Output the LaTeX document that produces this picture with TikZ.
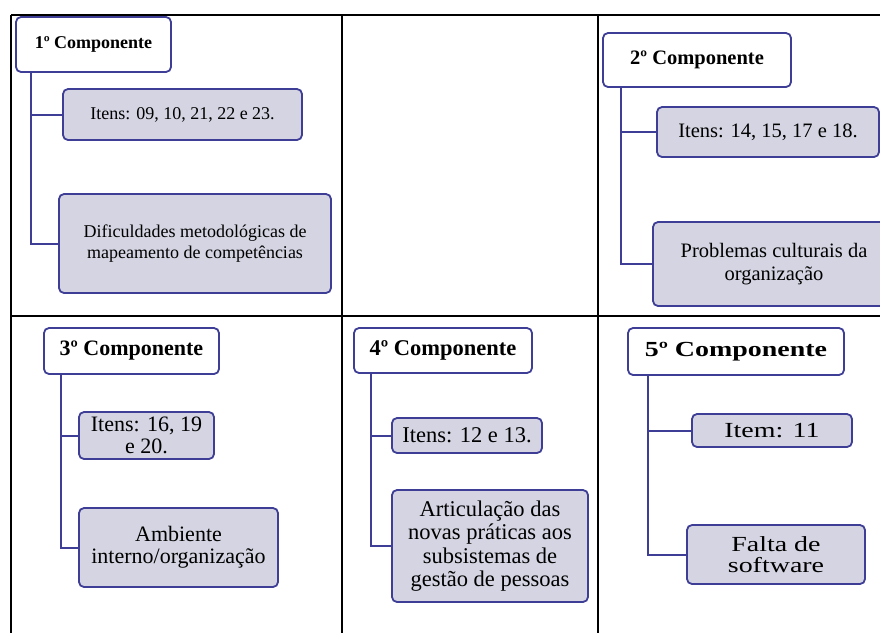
\documentclass[tikz,border=0pt]{standalone}
\usepackage{fontspec}
\setmainfont{Liberation Serif}
\newfontfamily\widefont[FakeStretch=1.3]{Liberation Serif}
\definecolor{boxline}{RGB}{62,62,150}
\definecolor{boxfill}{RGB}{212,212,226}
\tikzset{
  comp/.style={draw=boxline, line width=1.8pt, fill=white, rounded corners=5pt,
    inner sep=0pt, execute at begin node=\bfseries},
  item/.style={draw=boxline, line width=1.8pt, fill=boxfill, rounded corners=5pt,
    inner sep=0pt, align=center},
  conn/.style={draw=boxline, line width=2pt},
  tab/.style={line width=2.4pt}
}
\begin{document}
\begin{tikzpicture}[x=1pt, y=-1pt]
  \useasboundingbox (0,0) rectangle (880,633);
  \clip (0,0) rectangle (880,633);

  % table grid
  \draw[tab] (11,15) -- (880,15);
  \draw[tab] (11,316) -- (880,316);
  \draw[tab] (11,15) -- (11,633);
  \draw[tab] (342,15) -- (342,633);
  \draw[tab] (598,15) -- (598,633);

  % 1st component
  \begin{scope}[font=\fontsize{18}{21}\selectfont]
    \node[comp, minimum width=155, minimum height=55] (h1) at (93.5,44.5) {1º Componente};
    \node[item, minimum width=239, minimum height=51] (i1) at (182.5,114.5) {Itens: 09, 10, 21, 22 e 23.};
    \node[item, minimum width=272, minimum height=99] (d1) at (195,243.5)
      {Dificuldades metodológicas de\\mapeamento de competências};
    \coordinate (t1) at ([xshift=16pt]h1.south west);
    \draw[conn] (t1) |- (i1.west);
    \draw[conn] (t1) |- (d1.west);
  \end{scope}

  % 2nd component
  \begin{scope}[font=\fontsize{20.5}{23}\selectfont]
    \node[comp, minimum width=188, minimum height=54] (h2) at (697,60) {2º Componente};
    \node[item, minimum width=222, minimum height=50] (i2) at (768,132) {Itens: 14, 15, 17 e 18.};
    \node[item, minimum width=242, minimum height=84] (p2) at (774,264)
      {Problemas culturais da\\organização};
    \coordinate (t2) at ([xshift=19pt]h2.south west);
    \draw[conn] (t2) |- (i2.west);
    \draw[conn] (t2) |- (p2.west);
  \end{scope}

  % 3rd component
  \begin{scope}[font=\fontsize{22}{22}\selectfont]
    \node[comp, minimum width=175, minimum height=46] (h3) at (131.5,351) {3º Componente};
    \node[item, minimum width=135, minimum height=47] (i3) at (146.5,435.5) {Itens: 16, 19\\e 20.};
    \node[item, minimum width=199, minimum height=79] (a3) at (178.5,547.5)
      {Ambiente\\interno/organização};
    \coordinate (t3) at ([xshift=18pt]h3.south west);
    \draw[conn] (t3) |- (i3.west);
    \draw[conn] (t3) |- (a3.west);
  \end{scope}

  % 4th component
  \begin{scope}[font=\fontsize{22.5}{23.3}\selectfont]
    \node[comp, minimum width=178, minimum height=45] (h4) at (443,350.5) {4º Componente};
    \node[item, minimum width=150, minimum height=35] (i4) at (467,435.5) {Itens: 12 e 13.};
    \node[item, minimum width=196, minimum height=112] (a4) at (490,546)
      {Articulação das\\novas práticas aos\\subsistemas de\\gestão de pessoas};
    \coordinate (t4) at ([xshift=18pt]h4.south west);
    \draw[conn] (t4) |- (i4.west);
    \draw[conn] (t4) |- (a4.west);
  \end{scope}

  % 5th component
  \begin{scope}[font=\widefont\fontsize{21.5}{21.7}\selectfont]
    \node[comp, minimum width=216, minimum height=47] (h5) at (736,351.5) {5º Componente};
    \node[item, minimum width=160, minimum height=33] (i5) at (772,430.5) {Item: 11};
    \node[item, minimum width=178, minimum height=59] (f5) at (776,554.5) {Falta de\\software};
    \coordinate (t5) at ([xshift=21pt]h5.south west);
    \draw[conn] (t5) |- (i5.west);
    \draw[conn] (t5) |- (f5.west);
  \end{scope}
\end{tikzpicture}
\end{document}
